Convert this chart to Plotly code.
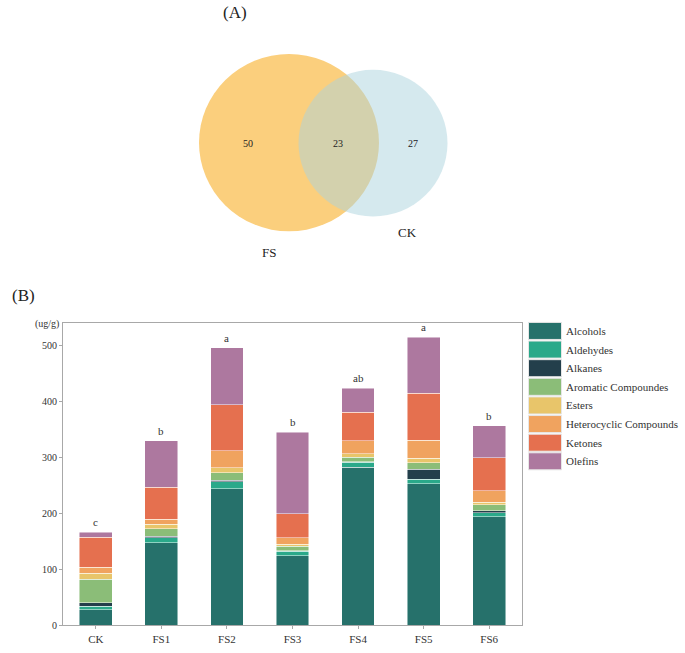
import plotly.graph_objects as go

W, H = 685, 653

# ---------------- data ----------------
groups = ["CK", "FS1", "FS2", "FS3", "FS4", "FS5", "FS6"]
classes = ["Alcohols", "Aldehydes", "Alkanes", "Aromatic Compoundes", "Esters",
           "Heterocyclic Compounds", "Ketones", "Olefins"]
alcohols = [28, 147, 244, 124, 282.5, 252.5, 194]
aldehydes = [5.5, 9.5, 12, 8, 8.5, 8.5, 7]
alkanes = [6.5, 2.5, 3, 1, 1.5, 17.5, 3.5]
aromatic = [42.5, 13.5, 13, 8, 7.5, 12, 10.5]
esters = [10.5, 7.5, 9, 4, 6, 8, 5]
heterocyclic = [10.5, 9.5, 31, 11, 23.5, 32, 20.5]
ketones = [54, 57, 82, 43, 51, 84, 58.5]
olefins = [8.5, 83, 102, 146, 43, 100, 57]
letters = ["c", "b", "a", "b", "ab", "a", "b"]
yticks = [0, 100, 200, 300, 400, 500]

venn_sets = ["FS", "CK"]
venn_counts = [50, 23, 27]  # FS only, shared, CK only

series = [alcohols, aldehydes, alkanes, aromatic, esters, heterocyclic, ketones, olefins]
colors = ["#26716b", "#2aa98a", "#233f4b", "#8bbd78", "#e8c56a", "#f0a35f", "#e5704f", "#ad789f"]

FONT = "Liberation Serif"
TXT = "#333333"


def px(x):
    return x / W


def py(y):
    return 1 - y / H


def label(xp, yp, text, size, color=TXT, xanchor="center"):
    return dict(x=px(xp), y=py(yp), xref="paper", yref="paper", text=text,
                showarrow=False, xanchor=xanchor, yanchor="middle",
                font=dict(family=FONT, size=size, color=color))


fig = go.Figure()
for name, vals, col in zip(classes, series, colors):
    fig.add_trace(go.Bar(
        x=groups, y=vals, name=name, marker_color=col,
        marker_line=dict(color="rgba(255,255,255,0.8)", width=0.6),
        showlegend=False,
    ))

totals = [sum(s[i] for s in series) for i in range(len(groups))]

annotations = []
for g, t, l in zip(groups, totals, letters):
    annotations.append(dict(x=g, y=t, xref="x", yref="y", text=l, showarrow=False,
                            xanchor="center", yanchor="bottom", yshift=2,
                            font=dict(family=FONT, size=11, color=TXT)))

shapes = []
# legend (manual, large colour boxes)
for i, (name, col) in enumerate(zip(classes, colors)):
    cy = 334 + i * 18.8
    shapes.append(dict(type="rect", xref="paper", yref="paper",
                       x0=px(528.5), x1=px(561.5), y0=py(cy + 8.6), y1=py(cy - 8.6),
                       fillcolor=col, line=dict(color="#e6e6e6", width=1)))
    annotations.append(label(564, cy, name, 11, xanchor="left"))

# Venn diagram
shapes.append(dict(type="circle", xref="paper", yref="paper", layer="above",
                   x0=px(289 - 90), x1=px(289 + 90), y0=py(144 + 89.5), y1=py(144 - 89.5),
                   fillcolor="rgb(251,207,125)", line=dict(width=0)))
shapes.append(dict(type="circle", xref="paper", yref="paper", layer="above",
                   x0=px(373 - 74.5), x1=px(373 + 74.5), y0=py(144.5 + 74), y1=py(144.5 - 74),
                   fillcolor="rgba(171,211,221,0.5)", line=dict(width=0)))
for xp, c in zip([248, 338, 413], venn_counts):
    annotations.append(label(xp, 145, str(c), 10, "#222"))
annotations.append(label(269, 255, venn_sets[0], 13, "#222"))
annotations.append(label(407, 235, venn_sets[1], 13, "#222"))

annotations.append(label(235, 13, "(A)", 17, "#222"))
annotations.append(label(23, 298, "(B)", 17, "#222"))
annotations.append(label(61, 327, "(ug/g)", 10, xanchor="right"))

fig.update_layout(
    width=W, height=H, autosize=False,
    margin=dict(l=0, r=0, t=0, b=0),
    paper_bgcolor="white", plot_bgcolor="white",
    barmode="stack", bargap=0.5,
    font=dict(family=FONT, color=TXT),
    xaxis=dict(domain=[px(63), px(522)], range=[-0.5, 6.5],
               showline=True, mirror=True, linecolor="#a8a8a8", linewidth=1.2,
               ticks="outside", ticklen=3, tickcolor="#a8a8a8",
               showgrid=False, zeroline=False,
               tickfont=dict(family=FONT, size=11, color=TXT)),
    yaxis=dict(domain=[py(631), py(326)], range=[0, 540],
               tickvals=yticks,
               showline=True, mirror=True, linecolor="#a8a8a8", linewidth=1.2,
               ticks="outside", ticklen=3, tickcolor="#a8a8a8",
               showgrid=False, zeroline=False,
               tickfont=dict(family=FONT, size=10, color=TXT)),
    shapes=shapes,
    annotations=annotations,
)

fig.write_html(
    "out.html",
    post_script="document.documentElement.style.margin='0';document.body.style.margin='0';"
                "document.documentElement.style.overflow='hidden';document.body.style.overflow='hidden';",
)
